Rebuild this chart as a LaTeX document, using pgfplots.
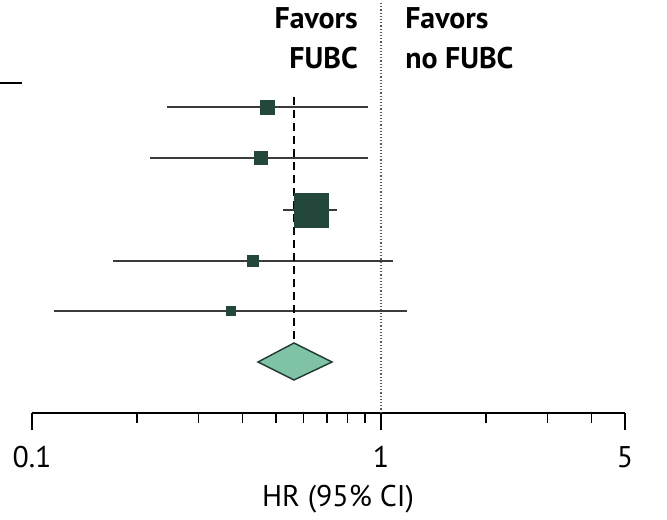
\documentclass[border=0pt]{standalone}
\usepackage{pgfplots}
\pgfplotsset{compat=1.18}
\usepackage{fontspec}
\setmainfont{PT Sans}
\definecolor{sqfill}{HTML}{23473B}
\definecolor{diafill}{HTML}{7FC2A6}
\definecolor{diaedge}{HTML}{1F3A30}
\definecolor{ciline}{HTML}{3A3A3A}

\begin{document}
\begin{tikzpicture}
\begin{axis}[
  scale only axis, width=593bp, height=413bp,
  xmode=log, xmin=0.1, xmax=5,
  ymin=0, ymax=413, y dir=reverse,
  axis x line*=bottom, axis y line=none,
  xtick={0.1,1,5}, xticklabels={0.1,1,5},
  minor xtick={0.2,0.3,0.4,0.5,0.6,0.7,0.8,0.9,2,3,4},
  tick align=outside, major tick length=17bp, minor tick length=10bp,
  every tick/.style={black, line width=1.2bp},
  axis line style={black, line width=1.5bp},
  xticklabel style={yshift=-13bp},
  clip=false,
  font=\fontsize{30}{40}\selectfont,
  xlabel={HR (95\% CI)},
  xlabel style={at={(axis cs:0.753,499)}, anchor=center},
]
% reference line at HR = 1
\addplot[gray!70!black, dotted, line width=1.2bp] coordinates {(1,3) (1,413)};

% study rows: confidence interval, then point estimate
\addplot[ciline, line width=1.6bp] coordinates {(0.244,107) (0.918,107)};
\addplot[only marks, mark=square*, mark size=7bp, mark options={fill=sqfill, draw=sqfill}] coordinates {(0.471,107)};

\addplot[ciline, line width=1.6bp] coordinates {(0.218,158) (0.918,158)};
\addplot[only marks, mark=square*, mark size=6.5bp, mark options={fill=sqfill, draw=sqfill}] coordinates {(0.453,158)};

\addplot[ciline, line width=1.6bp] coordinates {(0.524,210) (0.748,210)};
\addplot[only marks, mark=square*, mark size=17bp, mark options={fill=sqfill, draw=sqfill}] coordinates {(0.630,210)};

\addplot[ciline, line width=1.6bp] coordinates {(0.171,261) (1.08,261)};
\addplot[only marks, mark=square*, mark size=5.5bp, mark options={fill=sqfill, draw=sqfill}] coordinates {(0.430,261)};

\addplot[ciline, line width=1.6bp] coordinates {(0.116,311) (1.187,311)};
\addplot[only marks, mark=square*, mark size=4.5bp, mark options={fill=sqfill, draw=sqfill}] coordinates {(0.372,311)};

% pooled estimate
\addplot[diaedge, line width=1.4bp, fill=diafill] coordinates {(0.444,362) (0.563,343) (0.724,362) (0.563,380)} -- cycle;
\addplot[black, line width=2bp, dash pattern=on 8bp off 5bp] coordinates {(0.563,97) (0.563,343)};

% header
\node[anchor=east, align=right, inner sep=0pt, font=\fontsize{30}{40}\selectfont\bfseries] at (axis cs:0.859,38) {Favors\\FUBC};
\node[anchor=west, align=left, inner sep=0pt, font=\fontsize{30}{40}\selectfont\bfseries] at (axis cs:1.172,38) {Favors\\no FUBC};

% rule of the study table
\draw[black, line width=2.5bp] (axis cs:0.081,83) -- (axis cs:0.0936,83);

\coordinate (bl) at (axis cs:0.1,413);
\coordinate (tr) at (axis cs:5,0);
\end{axis}
\pgfresetboundingbox
\path ([xshift=-32bp,yshift=-107bp]bl) rectangle ([xshift=42bp]tr);
\end{tikzpicture}
\end{document}
